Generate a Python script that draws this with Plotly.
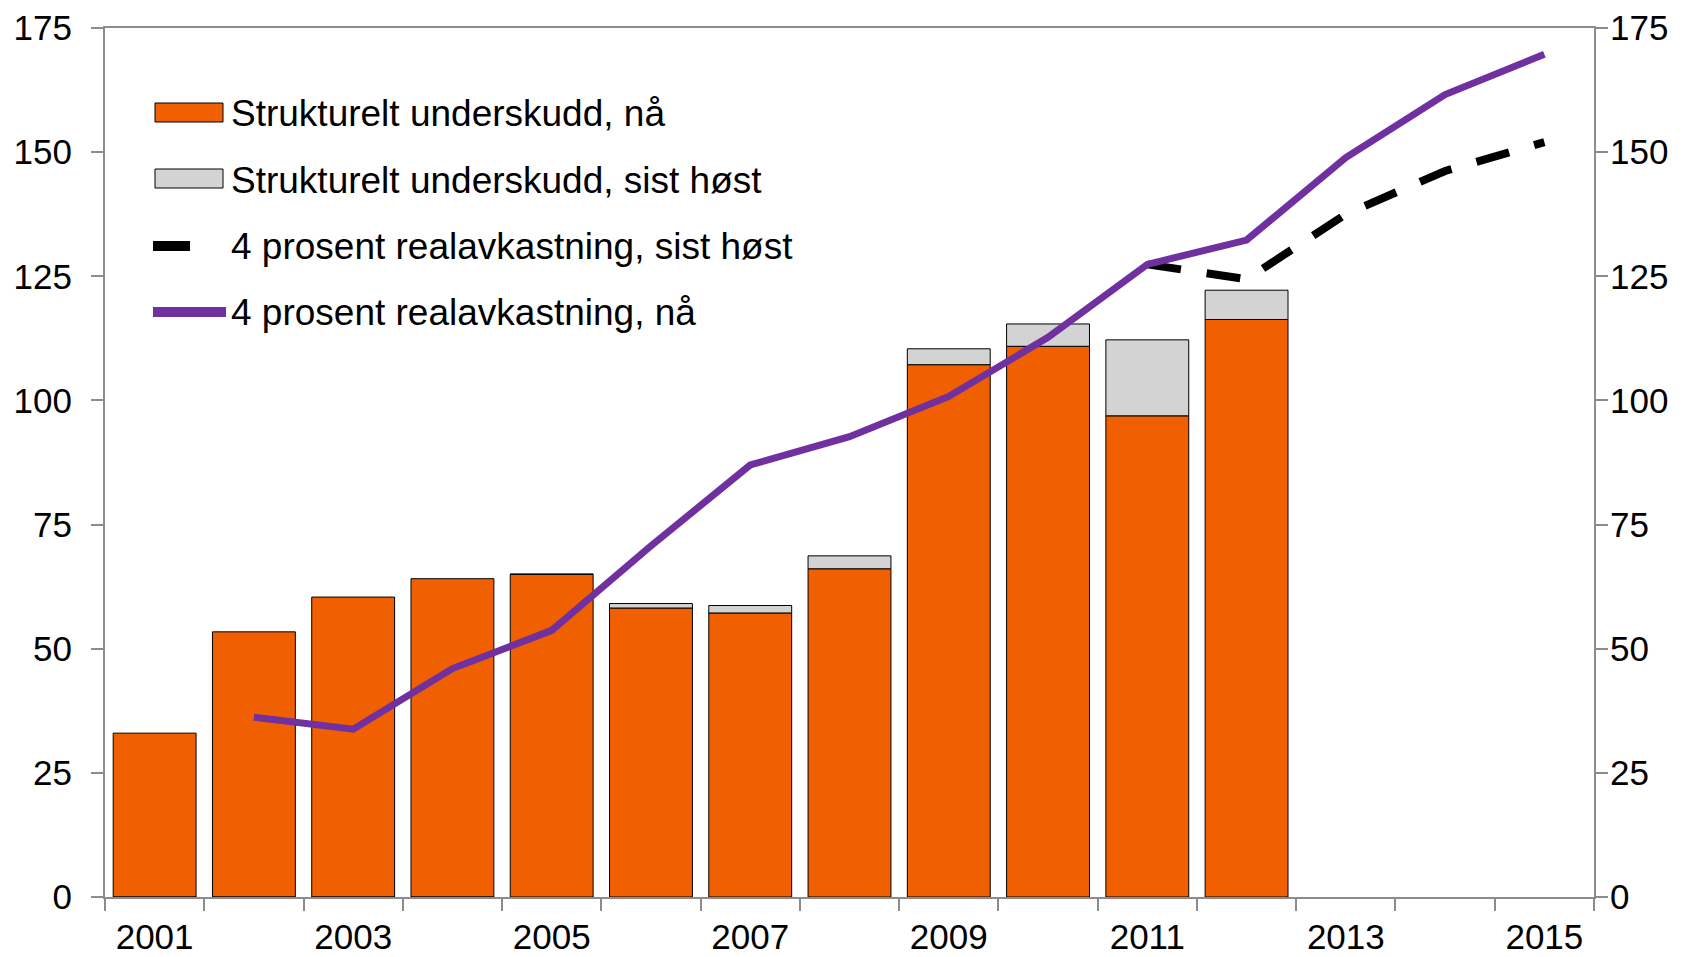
import plotly.graph_objects as go

years = [str(y) for y in range(2001, 2016)]
bar_years = [str(y) for y in range(2001, 2013)]
# Strukturelt underskudd, nå
under_naa = [33.0, 53.4, 60.4, 64.1, 65.0, 58.2, 57.2, 66.1, 107.2, 110.9, 96.9, 116.3]
# Strukturelt underskudd, sist høst
under_sist = [32.7, 53.1, 60.1, 63.8, 65.0, 59.1, 58.7, 68.7, 110.4, 115.4, 112.2, 122.2]
line_years_naa = [str(y) for y in range(2002, 2016)]
real_naa = [36.2, 33.8, 46.0, 53.7, 70.7, 87.0, 92.7, 100.8, 112.7, 127.4, 132.3, 148.9, 161.6, 169.7]
line_years_sist = [str(y) for y in range(2011, 2016)]
real_sist = [127.4, 124.4, 137.5, 146.2, 152.0]

legend_labels = [
    "Strukturelt underskudd, nå",
    "Strukturelt underskudd, sist høst",
    "4 prosent realavkastning, sist høst",
    "4 prosent realavkastning, nå",
]

diff = [round(s - n, 2) for s, n in zip(under_sist, under_naa)]

FONT = "Liberation Sans, Arial, sans-serif"
AXIS_GREY = "#8c8c8c"
ORANGE = "#F06000"
GREY = "#D3D3D3"
PURPLE = "#7030A0"

W, H = 1695, 957
L, R, T, B = 105, 101, 28, 60

fig = go.Figure()
fig.add_trace(go.Bar(
    x=bar_years, y=under_naa, name=legend_labels[0],
    marker=dict(color=ORANGE, line=dict(color="black", width=1)),
))
fig.add_trace(go.Bar(
    x=bar_years, y=diff, name=legend_labels[1],
    marker=dict(color=GREY, line=dict(color="black", width=1)),
))
fig.add_trace(go.Scatter(
    x=line_years_sist, y=real_sist, mode="lines", name=legend_labels[2],
    line=dict(color="black", width=8, dash="34px,26px"),
))
fig.add_trace(go.Scatter(
    x=line_years_naa, y=real_naa, mode="lines", name=legend_labels[3],
    line=dict(color=PURPLE, width=7),
))
# invisible trace to activate right axis
fig.add_trace(go.Scatter(x=[years[0]], y=[0], yaxis="y2", mode="markers",
                         marker=dict(opacity=0), showlegend=False, hoverinfo="skip"))

ticktext = [y if (int(y) % 2 == 1) else "" for y in years]

# manual legend (pixel -> paper coordinates)
pw, ph = W - L - R, H - T - B
def px(x):
    return (x - L) / pw
def py(y):
    return (H - B - y) / ph

shapes = []
annotations = []
shapes.append(dict(type="rect", xref="paper", yref="paper",
                   x0=px(155), x1=px(223), y0=py(122), y1=py(103),
                   fillcolor=ORANGE, line=dict(color="black", width=1)))
shapes.append(dict(type="rect", xref="paper", yref="paper",
                   x0=px(155), x1=px(223), y0=py(188), y1=py(169),
                   fillcolor=GREY, line=dict(color="black", width=1)))
shapes.append(dict(type="line", xref="paper", yref="paper",
                   x0=px(153), x1=px(190), y0=py(246), y1=py(246),
                   line=dict(color="black", width=10)))
shapes.append(dict(type="line", xref="paper", yref="paper",
                   x0=px(153), x1=px(226), y0=py(312), y1=py(312),
                   line=dict(color=PURPLE, width=10)))
text_y = [114, 180, 246, 312]
for lab, ty in zip(legend_labels, text_y):
    annotations.append(dict(xref="paper", yref="paper", x=px(229), y=py(ty),
                            xanchor="left", yanchor="middle", text=lab,
                            showarrow=False, font=dict(size=37, color="black", family=FONT)))

fig.update_layout(
    width=W, height=H,
    margin=dict(l=L, r=R, t=T, b=B),
    paper_bgcolor="white", plot_bgcolor="white",
    barmode="relative", bargap=0.165,
    font=dict(family=FONT, size=35, color="black"),
    showlegend=False,
    shapes=shapes, annotations=annotations,
    xaxis=dict(
        type="category", categoryorder="array", categoryarray=years,
        range=[-0.5, 14.5], automargin=False,
        tickvals=years, ticktext=ticktext, tickson="boundaries",
        ticks="outside", ticklen=12, tickcolor=AXIS_GREY, tickwidth=2,
        ticklabelstandoff=8,
        showline=True, linecolor=AXIS_GREY, linewidth=2, mirror=True,
        showgrid=False, tickfont=dict(size=35),
    ),
    yaxis=dict(
        range=[0, 175], tickvals=[0, 25, 50, 75, 100, 125, 150, 175],
        automargin=False,
        ticks="outside", ticklen=12, tickcolor=AXIS_GREY, tickwidth=2,
        ticklabelstandoff=12,
        showline=True, linecolor=AXIS_GREY, linewidth=2,
        showgrid=False, zeroline=False, tickfont=dict(size=35),
    ),
    yaxis2=dict(
        overlaying="y", side="right",
        range=[0, 175], tickvals=[0, 25, 50, 75, 100, 125, 150, 175],
        automargin=False,
        ticks="outside", ticklen=12, tickcolor=AXIS_GREY, tickwidth=2,
        ticklabelstandoff=-5,
        showline=True, linecolor=AXIS_GREY, linewidth=2,
        showgrid=False, zeroline=False, tickfont=dict(size=35),
    ),
)

fig.write_html("out.html", config={"displayModeBar": False},
               post_script="document.body.style.margin='0px';")
